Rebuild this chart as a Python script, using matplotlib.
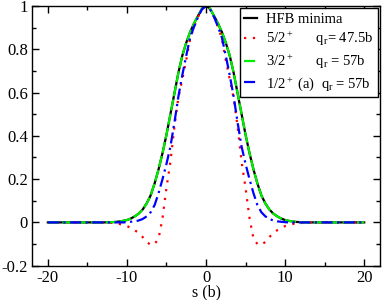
import numpy as np
import matplotlib
matplotlib.use("Agg")
import matplotlib.pyplot as plt
from matplotlib.ticker import MultipleLocator

plt.rcParams['font.family'] = ['Liberation Serif', 'DejaVu Serif']
plt.rcParams['mathtext.fontset'] = 'custom'
plt.rcParams['mathtext.rm'] = 'Liberation Serif'
plt.rcParams['mathtext.it'] = 'Liberation Serif:italic'

# s grid (b)
s = [-20, -19, -18, -17, -16, -15, -14, -13,
     -12, -11.5, -11, -10.5, -10, -9.5, -9, -8.5, -8, -7.5, -7, -6.5, -6, -5.5, -5, -4.5,
     -4, -3.5, -3, -2.5, -2, -1.5, -1, -0.5, 0, 0.5, 1, 1.5, 2, 2.5, 3, 3.5,
     4, 4.5, 5, 5.5, 6, 6.5, 7, 7.5, 8, 8.5, 9, 9.5, 10, 10.5, 11, 11.5, 12,
     13, 14, 15, 16, 17, 18, 19, 20]

hfb = [0, 0, 0, 0, 0, 0, 0, 0,
       0.001, 0.002, 0.004, 0.007, 0.011, 0.018, 0.028, 0.041, 0.06, 0.088, 0.125, 0.18, 0.245, 0.32, 0.405, 0.50,
       0.595, 0.69, 0.77, 0.83, 0.88, 0.92, 0.955, 0.988, 1.0, 0.988, 0.955, 0.92, 0.88, 0.83, 0.77, 0.69,
       0.595, 0.50, 0.405, 0.32, 0.245, 0.18, 0.125, 0.088, 0.06, 0.041, 0.028, 0.018, 0.011, 0.007, 0.004, 0.002, 0.001,
       0, 0, 0, 0, 0, 0, 0, 0]

k52 = [0, 0, 0, 0, 0, 0, 0, 0,
       -0.002, -0.004, -0.007, -0.011, -0.017, -0.025, -0.036, -0.05, -0.068, -0.09, -0.104, -0.1, -0.075, 0.02, 0.16, 0.28,
       0.44, 0.575, 0.66, 0.75, 0.85, 0.905, 0.95, 0.985, 1.0, 0.985, 0.95, 0.905, 0.85, 0.75, 0.66, 0.575,
       0.44, 0.28, 0.16, 0.02, -0.075, -0.1, -0.104, -0.09, -0.068, -0.05, -0.036, -0.025, -0.017, -0.011, -0.007, -0.004, -0.002,
       0, 0, 0, 0, 0, 0, 0, 0]

k32 = [0, 0, 0, 0, 0, 0, 0, 0,
       0.001, 0.002, 0.004, 0.007, 0.011, 0.018, 0.028, 0.041, 0.06, 0.087, 0.124, 0.18, 0.245, 0.32, 0.405, 0.50,
       0.595, 0.69, 0.77, 0.83, 0.88, 0.92, 0.955, 0.988, 1.0, 0.988, 0.955, 0.92, 0.88, 0.83, 0.77, 0.69,
       0.595, 0.50, 0.405, 0.32, 0.245, 0.18, 0.124, 0.087, 0.06, 0.041, 0.028, 0.018, 0.011, 0.007, 0.004, 0.002, 0.001,
       0, 0, 0, 0, 0, 0, 0, 0]

k12 = [0, 0, 0, 0, 0, 0, 0, 0,
       0, 0, 0, 0, 0.001, 0.003, 0.005, 0.009, 0.016, 0.028, 0.047, 0.08, 0.135, 0.2, 0.27, 0.35,
       0.46, 0.58, 0.68, 0.77, 0.855, 0.905, 0.95, 0.985, 1.0, 0.985, 0.95, 0.905, 0.855, 0.77, 0.68, 0.58,
       0.46, 0.35, 0.27, 0.2, 0.135, 0.08, 0.047, 0.028, 0.016, 0.009, 0.005, 0.003, 0.001, 0, 0, 0, 0,
       0, 0, 0, 0, 0, 0, 0, 0]

labels = ['HFB minima',
          r'5/2$^+$      q$_\mathrm{r}$= 47.5b',
          r'3/2$^+$      q$_\mathrm{r}$ = 57b',
          r'1/2$^+$ (a)  q$_\mathrm{r}$ = 57b']

fig = plt.figure(figsize=(3.82, 3.0), dpi=100)
ax = fig.add_axes([0.0838, 0.1143, 0.911, 0.866])

ax.plot(s, hfb, color='black', lw=1.6, label=labels[0])
ax.plot(s, k52, color='red', lw=1.6, linestyle=(0, (1, 3)), label=labels[1])
ax.plot(s, k32, color='#00ee00', lw=1.6, linestyle=(0, (5, 1.5)), label=labels[2])
ax.plot(s, k12, color='blue', lw=1.6, linestyle=(0, (5, 2, 1, 2)), label=labels[3])

ax.set_xlim(-22, 22)
ax.set_ylim(-0.2, 1.0)
ax.xaxis.set_minor_locator(MultipleLocator(5))
ax.yaxis.set_minor_locator(MultipleLocator(0.1))
ax.set_yticks([-0.2, 0, 0.2, 0.4, 0.6, 0.8, 1.0])
ax.set_yticklabels(['-0.2', '0', '0.2', '0.4', '0.6', '0.8', '1'])
ax.set_xticks([-20, -10, 0, 10, 20])
ax.set_xticklabels(['-20', '-10', '0', '10', '20'])
ax.tick_params(which='both', direction='in', top=True, right=True, labelsize=12, pad=3)
ax.tick_params(which='major', length=5, width=1)
ax.tick_params(which='minor', length=3, width=1)
for sp in ax.spines.values():
    sp.set_linewidth(1)

ax.set_xlabel('s (b)', fontsize=11.5, labelpad=-1)

leg = ax.legend(loc='upper right', fontsize=10.5, frameon=True, fancybox=False,
                edgecolor='black', framealpha=1, handlelength=0.9, handletextpad=0.6,
                labelspacing=0.3, borderpad=0.3, borderaxespad=0.15)
leg.get_frame().set_linewidth(1)

fig.savefig('out.png', dpi=100)
